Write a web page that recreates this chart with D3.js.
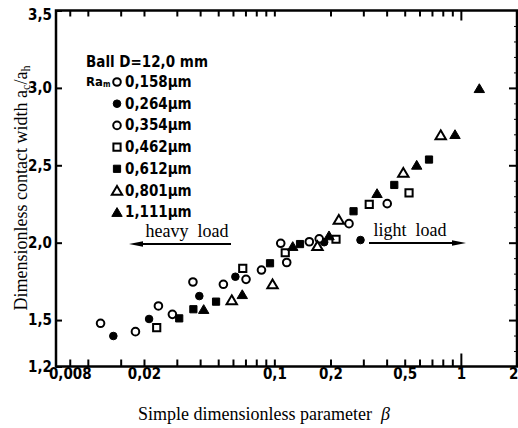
<!DOCTYPE html>
<html><head><meta charset="utf-8">
<script src="https://cdn.jsdelivr.net/npm/d3@7"></script>
<style>body{margin:0;background:#fff}svg{display:block}</style>
</head><body>
<svg id="chart" width="518" height="428"></svg>
<script>
// ---- data ----
const seriesLabels = ["0,158μm","0,264μm","0,354μm","0,462μm","0,612μm","0,801μm","1,111μm"];
const seriesShapes = ["circle","circle","circle","square","square","triangle","triangle"];
const seriesFilled = [false,true,false,false,true,false,true];

const beta158 = [0.0117,0.0239,0.0366,0.0705,0.1082,0.1540,0.2514];
const ratio158 = [1.479,1.591,1.746,1.763,1.996,2.006,2.123];
const beta264 = [0.0137,0.0213,0.0396,0.0618,0.1850,0.2897];
const ratio264 = [1.397,1.507,1.655,1.780,2.003,2.017];
const beta354 = [0.0180,0.0284,0.0533,0.0853,0.1165,0.1740,0.4029];
const ratio354 = [1.425,1.537,1.731,1.823,1.872,2.025,2.252];
const beta462 = [0.0234,0.0677,0.1144,0.2141,0.3227,0.5274];
const ratio462 = [1.451,1.834,1.935,2.022,2.248,2.322];
const beta612 = [0.0309,0.0368,0.0487,0.0948,0.1373,0.2658,0.4396,0.6750];
const ratio612 = [1.511,1.570,1.619,1.867,1.991,2.203,2.373,2.537];
const beta801 = [0.0591,0.0978,0.1703,0.2217,0.4914,0.7798];
const ratio801 = [1.630,1.733,1.979,2.149,2.453,2.696];
const beta1111 = [0.0418,0.0673,0.1255,0.1964,0.3553,0.5799,0.9304,1.256];
const ratio1111 = [1.570,1.666,1.977,2.046,2.319,2.502,2.700,2.997];

const seriesBeta = [beta158,beta264,beta354,beta462,beta612,beta801,beta1111];
const seriesRatio = [ratio158,ratio264,ratio354,ratio462,ratio612,ratio801,ratio1111];

const xMinorTicks = [0.008,0.01,0.015,0.02,0.03,0.04,0.05,0.06,0.07,0.08,0.09,0.1,0.2,0.3,0.4,0.5,0.6,0.7,0.8,0.9,1];
const xLabelValues = [0.008,0.02,0.1,0.2,0.5,1,2];
const xLabelTexts = ["0,008","0,02","0,1","0,2","0,5","1","2"];
const yTickValues = [1.2,1.5,2.0,2.5,3.0,3.5];
const yTickTexts = ["1,2","1,5","2,0","2,5","3,0","3,5"];
const yMinorTicks = [1.3,1.4,1.6,1.7,1.8,1.9,2.1,2.2,2.3,2.4,2.6,2.7,2.8,2.9,3.1,3.2,3.3,3.4];

// ---- layout ----
const L=56, R=517, T=10.5, B=366.5;
const svg = d3.select("#chart");
const x = d3.scaleLog().domain([0.00675,2]).range([L,R]);
const y = d3.scaleLinear().domain([1.2,3.5]).range([B,T]);
const tickFont = "'Liberation Sans Narrow','DejaVu Sans Condensed',Arial,sans-serif";
const serif = "'Liberation Serif','Times New Roman',serif";

// frame
svg.append("rect").attr("x",L).attr("y",T).attr("width",R-L).attr("height",B-T)
  .attr("fill","none").attr("stroke","#000").attr("stroke-width",2.5);

// bottom axis
const gB = svg.append("g").attr("transform",`translate(0,${B})`)
  .call(d3.axisBottom(x).tickValues(xMinorTicks).tickSize(-7).tickFormat(""));
gB.select(".domain").remove();
gB.selectAll(".tick line").attr("stroke-width",2).attr("y2",d=>d===1?-13:-7);
const gBL = svg.append("g").attr("transform",`translate(0,${B})`)
  .call(d3.axisBottom(x).tickValues(xLabelValues).tickSize(0).tickPadding(2)
    .tickFormat((d,i)=>xLabelTexts[i]));
gBL.select(".domain").remove();
gBL.selectAll("text").attr("font-family",tickFont).attr("font-weight","bold")
  .attr("font-size",15).attr("fill","#000")
  .attr("text-anchor",d=>d===2?"end":"middle").attr("dx",d=>d===2?"1":"0");

// top axis
const gT = svg.append("g").attr("transform",`translate(0,${T})`)
  .call(d3.axisTop(x).tickValues(xMinorTicks).tickSize(-6).tickFormat(""));
gT.select(".domain").remove();
gT.selectAll(".tick line").attr("stroke-width",2).attr("y2",d=>d===1?10:6);

// left axis
const gLft = svg.append("g").attr("transform",`translate(${L},0)`)
  .call(d3.axisLeft(y).tickValues(yTickValues).tickSize(-6).tickPadding(4)
    .tickFormat((d,i)=>yTickTexts[i]));
gLft.select(".domain").remove();
gLft.selectAll(".tick line").attr("stroke-width",2);
gLft.selectAll("text").attr("font-family",tickFont).attr("font-weight","bold")
  .attr("font-size",15).attr("fill","#000")
  .attr("dy",d=>d===3.5?"0.6em":"0.32em");

// right axis
const gRt = svg.append("g").attr("transform",`translate(${R},0)`)
  .call(d3.axisRight(y).tickValues([1.5,2.0,2.5,3.0]).tickSize(-8).tickFormat(""));
gRt.select(".domain").remove();
gRt.selectAll(".tick line").attr("stroke-width",2);
const gRm = svg.append("g").attr("transform",`translate(${R},0)`)
  .call(d3.axisRight(y).tickValues(yMinorTicks).tickSize(-3).tickFormat(""));
gRm.select(".domain").remove();
gRm.selectAll(".tick line").attr("stroke-width",1);

// markers
function shapePath(shape){
  if(shape==="circle") return d3.arc()({innerRadius:0,outerRadius:3.8,startAngle:0,endAngle:2*Math.PI});
  if(shape==="square") return "M-3.6,-3.6H3.6V3.6H-3.6Z";
  return "M0,-4.6L5.2,4.2L-5.2,4.2Z";
}
function drawMarker(g,shape,filled){
  g.append("path").attr("d",shapePath(shape))
    .attr("fill",filled?"#000":"#fff").attr("stroke","#000")
    .attr("stroke-width",filled?1:2);
}
seriesBeta.forEach((bs,si)=>{
  bs.forEach((b,i)=>{
    const g = svg.append("g").attr("transform",`translate(${x(b)},${y(seriesRatio[si][i])})`);
    drawMarker(g,seriesShapes[si],seriesFilled[si]);
  });
});

// legend
const legFont = tickFont;
svg.append("text").attr("x",86).attr("y",67).attr("font-family",legFont).attr("font-weight","bold")
  .attr("font-size",15).text("Ball D=12,0 mm");
const ra = svg.append("text").attr("x",86).attr("y",86).attr("font-family",legFont).attr("font-weight","bold")
  .attr("font-size",13);
ra.append("tspan").text("Ra");
ra.append("tspan").attr("font-size",8).attr("dy",1).text("m");
seriesLabels.forEach((lab,i)=>{
  const yy = 82 + i*21.7;
  const g = svg.append("g").attr("transform",`translate(117,${yy})`);
  drawMarker(g,seriesShapes[i],seriesFilled[i]);
  svg.append("text").attr("x",125).attr("y",yy+5).attr("font-family",legFont).attr("font-weight","bold")
    .attr("font-size",15).text(lab);
});

// load annotations
svg.append("text").attr("x",187).attr("y",237).attr("text-anchor","middle")
  .attr("font-family",serif).attr("font-size",18).style("white-space","pre").text("heavy  load");
svg.append("line").attr("x1",136).attr("x2",231).attr("y1",244).attr("y2",244)
  .attr("stroke","#000").attr("stroke-width",2.2);
svg.append("path").attr("d","M129,244L143,241.2L143,246.8Z").attr("fill","#000");

svg.append("text").attr("x",410).attr("y",236).attr("text-anchor","middle")
  .attr("font-family",serif).attr("font-size",18).style("white-space","pre").text("light  load");
svg.append("line").attr("x1",369).attr("x2",459).attr("y1",243).attr("y2",243)
  .attr("stroke","#000").attr("stroke-width",2.2);
svg.append("path").attr("d","M466,243L452,240.2L452,245.8Z").attr("fill","#000");

// axis titles
const xt = svg.append("text").attr("x",264).attr("y",420).attr("text-anchor","middle")
  .attr("font-family",serif).attr("font-size",18).attr("fill","#000");
xt.append("tspan").style("white-space","pre").text("Simple dimensionless parameter  ");
xt.append("tspan").attr("font-style","italic").text("β");

const yt = svg.append("text").attr("transform","translate(27,188) rotate(-90)")
  .attr("text-anchor","middle").attr("font-family",serif).attr("font-size",18).attr("fill","#000");
yt.append("tspan").text("Dimensionless contact width a");
yt.append("tspan").attr("font-size",12).attr("dy",3).text("c");
yt.append("tspan").attr("dy",-3).text("/a");
yt.append("tspan").attr("font-size",12).attr("dy",3).text("h");
</script>
</body></html>
